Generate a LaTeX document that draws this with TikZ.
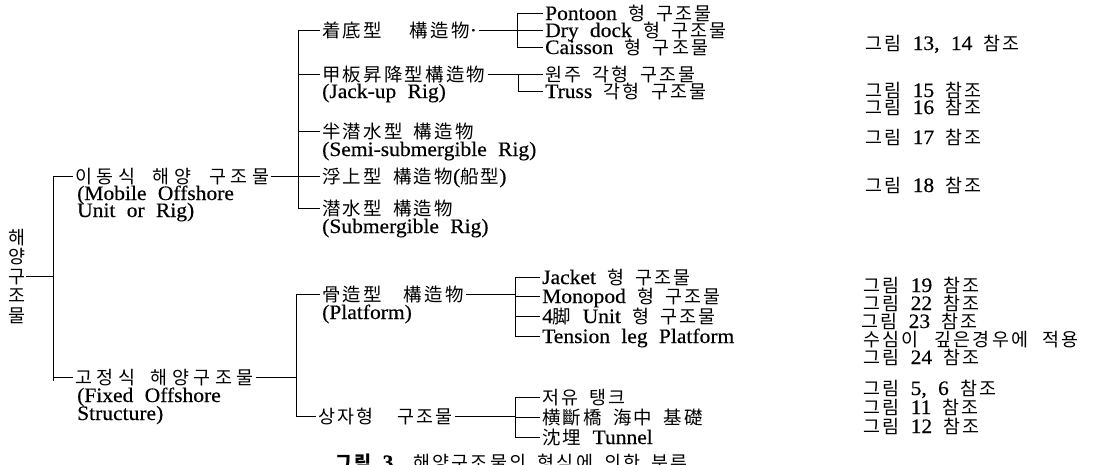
\documentclass[tikz,border=0pt]{standalone}
\usepackage{fontspec}
\setmainfont{Liberation Serif}[FakeStretch=1.05, WordSpace=2.1, FakeBold=0.4]
\newfontfamily\cjkfont{Noto Sans CJK KR}[Scale=0.9, LetterSpace=12]
\newfontfamily\cjkwide{Noto Sans CJK KR}[Scale=0.9, LetterSpace=24]
\newcommand\K[1]{{\cjkfont #1}}
\newcommand\KW[1]{{\cjkwide #1}}
\newcommand\gap[1]{\hspace{#1pt}}
\tikzset{
  lab/.style={anchor=west, inner xsep=2pt, inner ysep=0pt, text height=14pt, text depth=0pt},
  branch/.style={line width=0.8pt, black},
}
\begin{document}
\begin{tikzpicture}[x=1pt,y=-1pt, every node/.style={font=\fontsize{20.5}{20}\selectfont}]
\useasboundingbox (0,0) rectangle (1103,464);
\fill[white] (0,0) rectangle (1103,464);

% bars
\coordinate (b1t) at (53,176);  \coordinate (b1b) at (53,381);
\coordinate (b2t) at (298,30);  \coordinate (b2b) at (298,208);
\coordinate (b3t) at (296,294); \coordinate (b3b) at (296,416);
\coordinate (b4t) at (517,13);  \coordinate (b4b) at (517,47);
\coordinate (b5t) at (518,74);  \coordinate (b5b) at (518,91);
\coordinate (b6t) at (515,277); \coordinate (b6b) at (515,336);
\coordinate (b7t) at (515,397); \coordinate (b7b) at (515,437);

% root
\node[inner sep=0pt, align=center, font=\fontsize{20.5}{19.5}\selectfont] (root) at (17,276)
  {\K{해}\\\K{양}\\\K{구}\\\K{조}\\\K{물}};

% level 1
\node[lab] (mob)  at (73,176) {\KW{이동식}\gap{18}\KW{해양}\gap{18}\KW{구조물}};
\node[lab] (mob2) at (75,193) {(Mobile Offshore};
\node[lab] (mob3) at (75,210) {Unit or Rig)};
\node[lab] (fix)  at (73,377) {\KW{고정식}\gap{16}\KW{해양구조물}};
\node[lab] (fix2) at (75,395) {(Fixed Offshore};
\node[lab] (fix3) at (75,413) {Structure)};

% level 2 mobile
\node[lab] (c1)  at (320,30)  {\K{着底型}\gap{28}\K{構造物}·};
\node[lab] (c2)  at (320,74)  {\K{甲板昇降型構造物}};
\node[lab] (c2b) at (320,91)  {(Jack-up Rig)};
\node[lab] (c3)  at (320,131) {\K{半潜水型} \K{構造物}};
\node[lab] (c3b) at (320,149) {(Semi-submergible Rig)};
\node[lab] (c4)  at (320,176) {\K{浮上型} \K{構造物}(\K{船型})};
\node[lab] (c5)  at (320,208) {\K{潜水型} \K{構造物}};
\node[lab] (c5b) at (320,226) {(Submergible Rig)};

% level 2 fixed
\node[lab] (f1)  at (320,294) {\K{骨造型}\gap{22}\K{構造物}};
\node[lab] (f1b) at (320,312) {(Platform)};
\node[lab] (f2)  at (316,416) {\K{상자형}\gap{24}\K{구조물}};

% level 3
\node[lab] (g1) at (543,13) {Pontoon \K{형} \K{구조물}};
\node[lab] (g2) at (543,30) {Dry dock \K{형} \K{구조물}};
\node[lab] (g3) at (543,47) {Caisson \K{형} \K{구조물}};
\node[lab] (h1) at (543,74) {\K{원주} \K{각형} \K{구조물}};
\node[lab] (h2) at (543,91) {Truss \K{각형} \K{구조물}};
\node[lab] (j1) at (540,277) {Jacket \K{형} \K{구조물}};
\node[lab] (j2) at (540,296) {Monopod \K{형} \K{구조물}};
\node[lab] (j3) at (540,316) {4\K{脚} Unit \K{형} \K{구조물}};
\node[lab] (j4) at (540,336) {Tension leg Platform};
\node[lab] (k1) at (540,397) {\K{저유} \K{탱크}};
\node[lab] (k2) at (540,417) {\K{横斷橋} \K{海中} \K{基礎}};
\node[lab] (k3) at (540,437) {\K{沈埋} Tunnel};

% references
\node[lab] (r1)  at (863,43)  {\K{그림} 13, 14 \K{참조}};
\node[lab] (r2)  at (863,90)  {\K{그림} 15 \K{참조}};
\node[lab] (r3)  at (863,107) {\K{그림} 16 \K{참조}};
\node[lab] (r4)  at (863,137) {\K{그림} 17 \K{참조}};
\node[lab] (r5)  at (863,185) {\K{그림} 18 \K{참조}};
\node[lab] (r6)  at (861,285) {\K{그림} 19 \K{참조}};
\node[lab] (r7)  at (861,303) {\K{그림} 22 \K{참조}};
\node[lab] (r8)  at (859,321) {\K{그림} 23 \K{참조}};
\node[lab] (r9)  at (861,339) {\K{수심이}\gap{16}\K{깊은경우에}\gap{14}\K{적용}};
\node[lab] (r10) at (861,357) {\K{그림} 24 \K{참조}};
\node[lab] (r11) at (861,388) {\K{그림} 5, 6 \K{참조}};
\node[lab] (r12) at (861,407) {\K{그림} 11 \K{참조}};
\node[lab] (r13) at (861,426) {\K{그림} 12 \K{참조}};

% caption (cut by the lower edge)
\node[lab] (cap) at (333,462) {{\bfseries\K{그림} 3}\gap{20}\K{해양구조물의} \K{형식에} \K{의한} \K{분류}};

% connectors
\draw[branch] (root.east) -- (root.east -| b1t);
\draw[branch] (b1t) -- (b1b);
\draw[branch] (mob.west -| b1t) -- (mob.west);
\draw[branch] (fix.west -| b1t) -- (fix.west);
\draw[branch] (mob.east) -- (mob.east -| b2t);
\draw[branch] (fix.east) -- (fix.east -| b3t);

\draw[branch] (b2t) -- (b2b);
\foreach \n in {c1,c2,c3,c4,c5} \draw[branch] (\n.west -| b2t) -- (\n.west);
\draw[branch] (b3t) -- (b3b);
\foreach \n in {f1,f2} \draw[branch] (\n.west -| b3t) -- (\n.west);

\draw[branch] (c1.east) -- (c1.east -| b4t);
\draw[branch] (c2.east) -- (c2.east -| b5t);
\draw[branch] (f1.east) -- (f1.east -| b6t);
\draw[branch] (f2.east) -- (f2.east -| b7t);

\draw[branch] (b4t) -- (b4b);
\foreach \n in {g1,g2,g3} \draw[branch] (\n.west -| b4t) -- (\n.west);
\draw[branch] (b5t) -- (b5b);
\foreach \n in {h1,h2} \draw[branch] (\n.west -| b5t) -- (\n.west);
\draw[branch] (b6t) -- (b6b);
\foreach \n in {j1,j2,j3,j4} \draw[branch] (\n.west -| b6t) -- (\n.west);
\draw[branch] (b7t) -- (b7b);
\foreach \n in {k1,k2,k3} \draw[branch] (\n.west -| b7t) -- (\n.west);
\end{tikzpicture}
\end{document}
